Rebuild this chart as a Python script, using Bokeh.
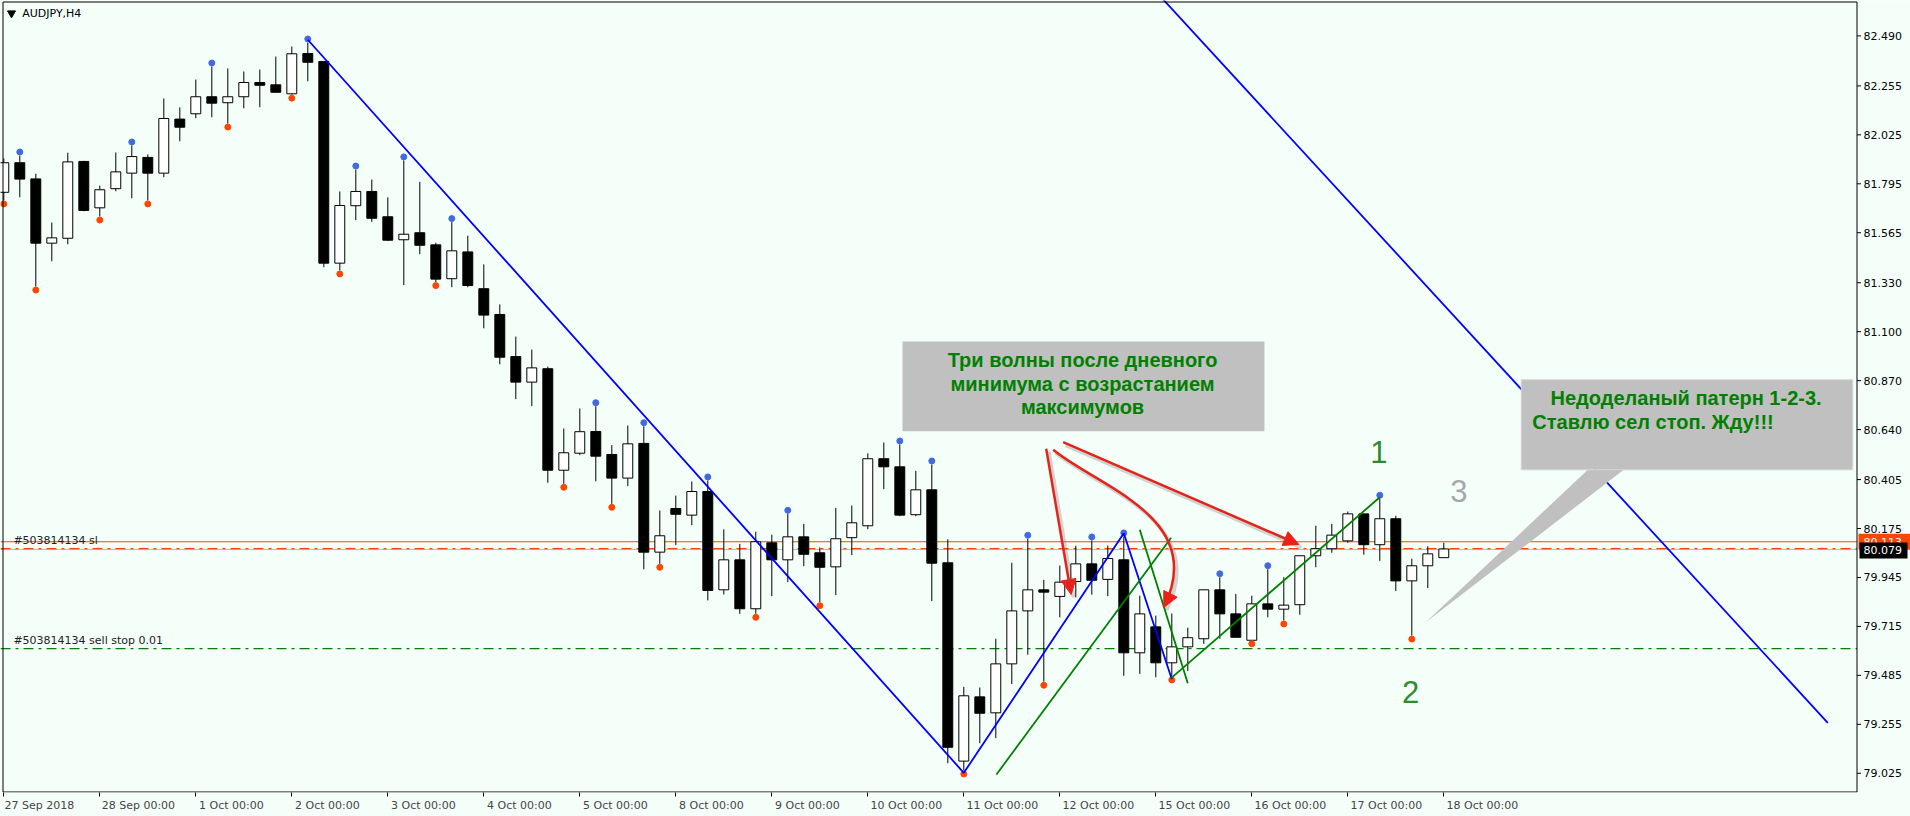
from bokeh.plotting import figure
from bokeh.models import (Range1d, FixedTicker, CustomJSTickFormatter, Arrow, NormalHead)
from bokeh.core.properties import value
from bokeh.embed import file_html
from bokeh.resources import INLINE

# ---------------- data ----------------
symbol = "AUDJPY,H4"
bars = list(range(91))
opens = [81.755, 81.894, 81.818, 81.516, 81.539, 81.900, 81.682, 81.772, 81.845, 81.919,
         81.845, 82.099, 82.124, 82.204, 82.176, 82.204, 82.271, 82.260, 82.218, 82.407,
         82.370, 81.422, 81.692, 81.759, 81.640, 81.532, 81.565, 81.508, 81.349, 81.475,
         81.302, 81.181, 80.983, 80.863, 80.926, 80.449, 80.529, 80.631, 80.523, 80.412,
         80.575, 80.064, 80.269, 80.238, 80.349, 79.887, 80.028, 79.798, 80.108, 80.028,
         80.136, 80.061, 79.995, 80.132, 80.188, 80.503, 80.465, 80.240, 80.357, 80.014,
         79.082, 79.384, 79.309, 79.539, 79.788, 79.887, 79.856, 79.926, 80.009, 79.936,
         80.028, 79.591, 79.713, 79.544, 79.619, 79.657, 79.887, 79.774, 79.650, 79.821,
         79.796, 79.817, 80.047, 80.080, 80.117, 80.244, 80.099, 80.221, 79.929, 80.000,
         80.038]
highs = [81.914, 81.928, 81.842, 81.613, 81.941, 81.903, 81.786, 81.942, 81.975, 81.933,
         82.196, 82.154, 82.285, 82.346, 82.337, 82.323, 82.332, 82.393, 82.440, 82.459,
         82.370, 81.759, 81.862, 81.815, 81.731, 81.905, 81.804, 81.518, 81.615, 81.551,
         81.416, 81.228, 81.077, 81.016, 80.936, 80.645, 80.739, 80.750, 80.567, 80.659,
         80.656, 80.260, 80.330, 80.396, 80.401, 80.171, 80.103, 80.160, 80.146, 80.244,
         80.197, 80.086, 80.272, 80.283, 80.528, 80.579, 80.570, 80.446, 80.476, 80.124,
         79.431, 79.428, 79.657, 80.014, 80.127, 79.934, 80.001, 80.094, 80.119, 80.095,
         80.138, 79.860, 79.766, 79.776, 79.709, 79.887, 79.946, 79.868, 79.859, 79.984,
         79.946, 80.047, 80.188, 80.197, 80.255, 80.244, 80.315, 80.235, 80.033, 80.092,
         80.108]
lows = [81.717, 81.732, 81.312, 81.431, 81.511, 81.666, 81.641, 81.760, 81.727, 81.717,
        81.826, 81.995, 82.103, 82.108, 82.078, 82.150, 82.155, 82.225, 82.214, 82.277,
        81.403, 81.388, 81.624, 81.616, 81.527, 81.319, 81.464, 81.333, 81.309, 81.309,
        81.116, 80.947, 80.783, 80.750, 80.390, 80.385, 80.520, 80.397, 80.291, 80.374,
        79.983, 80.009, 80.097, 80.191, 79.837, 79.865, 79.774, 79.774, 79.857, 79.923,
        79.998, 79.829, 79.862, 80.050, 80.172, 80.360, 80.233, 80.233, 79.834, 79.072,
        79.038, 79.166, 79.190, 79.444, 79.582, 79.455, 79.758, 79.852, 79.864, 79.857,
        79.483, 79.492, 79.476, 79.480, 79.505, 79.633, 79.657, 79.664, 79.650, 79.758,
        79.743, 79.770, 79.993, 80.061, 80.108, 80.052, 80.023, 79.881, 79.672, 79.895,
        80.038]
closes = [81.894, 81.817, 81.516, 81.541, 81.898, 81.670, 81.767, 81.851, 81.923, 81.845,
          82.102, 82.061, 82.204, 82.174, 82.204, 82.271, 82.258, 82.225, 82.406, 82.366,
          81.422, 81.693, 81.759, 81.633, 81.530, 81.558, 81.506, 81.347, 81.480, 81.317,
          81.178, 80.980, 80.863, 80.930, 80.449, 80.531, 80.630, 80.515, 80.412, 80.573,
          80.064, 80.141, 80.242, 80.349, 79.884, 80.028, 79.798, 80.113, 80.028, 80.136,
          80.054, 79.993, 80.127, 80.202, 80.503, 80.465, 80.238, 80.357, 80.012, 79.147,
          79.389, 79.307, 79.539, 79.788, 79.887, 79.876, 79.923, 80.009, 79.932, 80.034,
          79.591, 79.774, 79.544, 79.619, 79.662, 79.887, 79.774, 79.664, 79.821, 79.796,
          79.815, 80.047, 80.080, 80.144, 80.244, 80.099, 80.221, 79.929, 80.000, 80.056,
          80.079]

date_tick_bars = [0, 6, 12, 18, 24, 30, 36, 42, 48, 54, 60, 66, 72, 78, 84, 90]
date_tick_labels = ["27 Sep 2018", "28 Sep 00:00", "1 Oct 00:00", "2 Oct 00:00", "3 Oct 00:00",
                    "4 Oct 00:00", "5 Oct 00:00", "8 Oct 00:00", "9 Oct 00:00", "10 Oct 00:00",
                    "11 Oct 00:00", "12 Oct 00:00", "15 Oct 00:00", "16 Oct 00:00",
                    "17 Oct 00:00", "18 Oct 00:00"]
price_ticks = [79.025, 79.255, 79.485, 79.715, 79.945, 80.175, 80.405, 80.640, 80.870,
               81.100, 81.330, 81.565, 81.795, 82.025, 82.255, 82.490]

fractal_up_bars = [1, 8, 13, 19, 22, 25, 28, 37, 40, 44, 49, 56, 58, 64, 68, 70, 76, 79, 86]
fractal_down_bars = [0, 2, 6, 9, 14, 18, 21, 27, 35, 38, 41, 47, 51, 60, 65, 73, 78, 80, 88]

zigzag_bars = [19, 60, 70, 73]
zigzag_prices = [82.472, 79.027, 80.153, 79.467]
trend_bars = [72, 114]
trend_prices = [82.699, 79.262]
green1_bars = [62.04, 72.96]
green1_prices = [79.019, 80.132]
green2_bars = [71.0, 74.0]
green2_prices = [80.169, 79.448]
green3_bars = [72.96, 86.0]
green3_prices = [79.472, 80.322]

sl_price = 80.113
order_price = 80.081
bid_price = 80.079
sell_stop_price = 79.611

# annotation anchors (bar index, price)
arrow_a = [65.15, 80.550, 66.71, 79.865]
arrow_c = [66.21, 80.581, 80.94, 80.100]
arrow_b_curve = [65.59, 80.545, 68.23, 80.377, 75.31, 80.228, 72.5, 79.805]
arrow_b_head = [72.81, 79.852, 72.5, 79.805]
box1 = [56.17, 78.79, 81.054, 80.632]
box1_lines = ["Три волны после дневного", "минимума с возрастанием", "максимумов"]
box1_x = 67.42
box1_y = [80.966, 80.853, 80.744]
box2 = [94.84, 115.56, 80.874, 80.451]
box2_pointer_x = [99.0, 101.25, 88.85]
box2_pointer_y = [80.451, 80.451, 79.733]
box2_lines = ["Недоделаный патерн 1-2-3.", "Ставлю сел стоп. Жду!!!"]
box2_x = [96.67, 95.53]
box2_y = [80.789, 80.677]
point_labels = ["1", "2", "3"]
point_x = [85.94, 87.92, 90.94]
point_y = [80.534, 79.409, 80.350]
point_colors = ["#2E8B2E", "#2E8B2E", "#A8A8A8"]

# ---------------- geometry / styling ----------------
BG = "#F5FFFA"
RED = "#E8221A"
PX_PER_BAR = 16.0
PX_PER_PRICE = 212.8
FONT = "DejaVu Sans"
X0_PX = 3.3            # pixel of bar 0 inside the frame
P_REF, Y_REF = 82.490, 35.4


def kx(px):            # frame pixel -> bar coordinate (for furniture only)
    return (px - X0_PX) / PX_PER_BAR


def py(px):            # frame pixel -> price coordinate (for furniture only)
    return P_REF - (px - Y_REF) / PX_PER_PRICE


x_min, x_max = kx(0), kx(1910)
y_min, y_max = py(792), py(0)
k_left, k_axis = kx(2.5), kx(1856.5)
p_top, p_bottom = py(1.5), py(791.5)

p = figure(width=1910, height=816, output_backend="svg", toolbar_location=None,
           x_range=Range1d(x_min, x_max), y_range=Range1d(y_min, y_max),
           y_axis_location=None, min_border_left=0, min_border_right=0,
           min_border_top=0, min_border_bottom=24)
p.background_fill_color = BG
p.border_fill_color = BG
p.outline_line_color = None
p.grid.visible = False

# bottom date axis: labels start right of the tick (as in MT4)
char_w = 6.1
label_centers = [b + (2 + char_w * len(t) / 2) / PX_PER_BAR for b, t in zip(date_tick_bars, date_tick_labels)]
xa = p.xaxis[0]
xa.ticker = FixedTicker(ticks=label_centers, minor_ticks=date_tick_bars)
xa.formatter = CustomJSTickFormatter(args=dict(labels=date_tick_labels), code="return labels[index];")
xa.major_tick_line_color = None
xa.major_tick_out = 4
xa.major_tick_in = 0
xa.minor_tick_out = 4
xa.minor_tick_in = 0
xa.minor_tick_line_color = "black"
xa.major_label_standoff = 2
xa.major_label_text_font = FONT
xa.major_label_text_font_size = "11px"
xa.axis_line_color = None

# horizontal order / price lines (behind candles)
p.segment(x0=[x_min], x1=[k_axis], y0=[bid_price - 0.003], y1=[bid_price - 0.003], line_color="#B8B8B8", line_width=1)
p.segment(x0=[x_min], x1=[k_axis], y0=[order_price], y1=[order_price], line_color="#FF4500",
          line_width=1.3, line_dash="10 5 3 5")
p.segment(x0=[x_min], x1=[k_axis], y0=[sl_price], y1=[sl_price], line_color="#FF4500", line_width=1.2)
p.segment(x0=[x_min], x1=[k_axis], y0=[sell_stop_price], y1=[sell_stop_price], line_color="#008000",
          line_width=1.2, line_dash="10 5 3 5")

# candles
bull = [c >= o for o, c in zip(opens, closes)]
p.segment(x0=bars, y0=lows, x1=bars, y1=highs, line_color="black", line_width=1)
half = 0.31
p.quad(left=[b - half for b in bars], right=[b + half for b in bars],
       top=[max(o, c) for o, c in zip(opens, closes)],
       bottom=[min(o, c) for o, c in zip(opens, closes)],
       fill_color=["white" if u else "black" for u in bull], line_color="black", line_width=1)

# fractal dots
off = 3.5 / PX_PER_PRICE
p.scatter(x=fractal_up_bars, y=[highs[i] + off for i in fractal_up_bars], size=6,
          fill_color="#4169E1", line_color="#4169E1")
p.scatter(x=fractal_down_bars, y=[lows[i] - off for i in fractal_down_bars], size=6,
          fill_color="#FF4500", line_color="#FF4500")

# trend lines
p.line(zigzag_bars, zigzag_prices, line_color="#0000FF", line_width=1.8)
p.line(trend_bars, trend_prices, line_color="#0000FF", line_width=1.8)
p.line(green1_bars, green1_prices, line_color="#008000", line_width=1.8)
p.line(green2_bars, green2_prices, line_color="#008000", line_width=1.8)
p.line(green3_bars, green3_prices, line_color="#008000", line_width=1.8)

# order labels on the left
p.text(x=[0.6], y=[order_price + 1.5 / PX_PER_PRICE], text=["#503814134 sl"], text_font=value(FONT),
       text_font_size="11px", text_baseline="bottom", text_color="#222222")
p.text(x=[0.6], y=[sell_stop_price + 1.5 / PX_PER_PRICE], text=["#503814134 sell stop 0.01"],
       text_font=value(FONT), text_font_size="11px", text_baseline="bottom", text_color="#222222")

# title
p.scatter(x=[kx(11)], y=[py(12.7)], marker="inverted_triangle", size=8, fill_color="black", line_color="black")
p.text(x=[kx(21.7)], y=[py(12.7)], text=[symbol], text_font=value(FONT), text_font_size="11px",
       text_baseline="middle", text_color="black")

# arrows: shadows
dx = 2.5 / PX_PER_BAR
dy = -3.0 / PX_PER_PRICE
p.segment(x0=[arrow_a[0] + dx, arrow_c[0] + dx], y0=[arrow_a[1] + dy, arrow_c[1] + dy],
          x1=[arrow_a[2] + dx, arrow_c[2] + dx], y1=[arrow_a[3] + dy, arrow_c[3] + dy],
          line_color="#707070", line_alpha=0.3, line_width=4)
p.bezier(x0=[arrow_b_curve[0] + dx], y0=[arrow_b_curve[1] + dy], cx0=[arrow_b_curve[2] + dx],
         cy0=[arrow_b_curve[3] + dy], cx1=[arrow_b_curve[4] + dx], cy1=[arrow_b_curve[5] + dy],
         x1=[arrow_b_curve[6] + dx], y1=[arrow_b_curve[7] + dy],
         line_color="#707070", line_alpha=0.3, line_width=4)
# arrows
p.bezier(x0=[arrow_b_curve[0]], y0=[arrow_b_curve[1]], cx0=[arrow_b_curve[2]], cy0=[arrow_b_curve[3]],
         cx1=[arrow_b_curve[4]], cy1=[arrow_b_curve[5]], x1=[arrow_b_curve[6]], y1=[arrow_b_curve[7]],
         line_color=RED, line_width=2.5)
for a in (arrow_a, arrow_c):
    p.add_layout(Arrow(end=NormalHead(size=15, fill_color=RED, line_color=RED),
                       x_start=a[0], y_start=a[1], x_end=a[2], y_end=a[3],
                       line_color=RED, line_width=2.5))
p.add_layout(Arrow(end=NormalHead(size=15, fill_color=RED, line_color=RED),
                   x_start=arrow_b_head[0], y_start=arrow_b_head[1],
                   x_end=arrow_b_head[2], y_end=arrow_b_head[3], line_alpha=0))

# text boxes
p.quad(left=[box1[0]], right=[box1[1]], top=[box1[2]], bottom=[box1[3]],
       fill_color="#C0C0C0", line_color=None)
p.text(x=[box1_x] * 3, y=box1_y, text=box1_lines, text_font=value("Liberation Sans"),
       text_font_style="bold", text_font_size="20px", text_align="center",
       text_baseline="middle", text_color="#008000")
p.patch(box2_pointer_x, box2_pointer_y, fill_color="#C0C0C0", line_color=None)
p.quad(left=[box2[0]], right=[box2[1]], top=[box2[2]], bottom=[box2[3]],
       fill_color="#C0C0C0", line_color="#D4D4D4")
p.text(x=box2_x, y=box2_y, text=box2_lines, text_font=value("Liberation Sans"),
       text_font_style="bold", text_font_size="20px", text_align="left",
       text_baseline="middle", text_color="#008000")

# pattern points
p.text(x=point_x, y=point_y, text=point_labels, text_font=value("Liberation Sans"),
       text_font_size="31px", text_align="center", text_baseline="middle", text_color=point_colors)

# chart frame (left, top, bottom borders and the price-scale line)
p.segment(x0=[k_left, k_left, k_left, k_axis], y0=[p_bottom, p_top, p_bottom, p_bottom],
          x1=[k_left, k_axis, k_axis, k_axis], y1=[p_top, p_top, p_bottom, p_top],
          line_color="black", line_width=1)

# price scale: ticks and labels
tick_len = 4 / PX_PER_BAR
p.segment(x0=[k_axis] * len(price_ticks), x1=[k_axis + tick_len] * len(price_ticks),
          y0=price_ticks, y1=price_ticks, line_color="black", line_width=1)
lab_x = kx(1863)
p.text(x=[lab_x] * len(price_ticks), y=price_ticks, text=[f"{t:.3f}" for t in price_ticks],
       text_font=value(FONT), text_font_size="11px", text_baseline="middle", text_color="black")

# price tags: stop-loss line (orange) and bid (black)
tag_h = 8 / PX_PER_PRICE
p.quad(left=[kx(1858)], right=[kx(1910)], top=[sl_price + tag_h], bottom=[sl_price - tag_h],
       fill_color="#FF4500", line_color=None)
p.text(x=[lab_x], y=[sl_price], text=[f"{sl_price:.3f}"], text_font=value(FONT),
       text_font_size="11px", text_baseline="middle", text_color="white")
bid_c = bid_price - 1.5 / PX_PER_PRICE
p.quad(left=[kx(1859)], right=[kx(1907)], top=[bid_c + tag_h], bottom=[bid_c - tag_h],
       fill_color="black", line_color=None)
p.text(x=[lab_x], y=[bid_c], text=[f"{bid_price:.3f}"], text_font=value(FONT),
       text_font_size="11px", text_baseline="middle", text_color="white")

open("out.html", "w").write(file_html(p, INLINE))
